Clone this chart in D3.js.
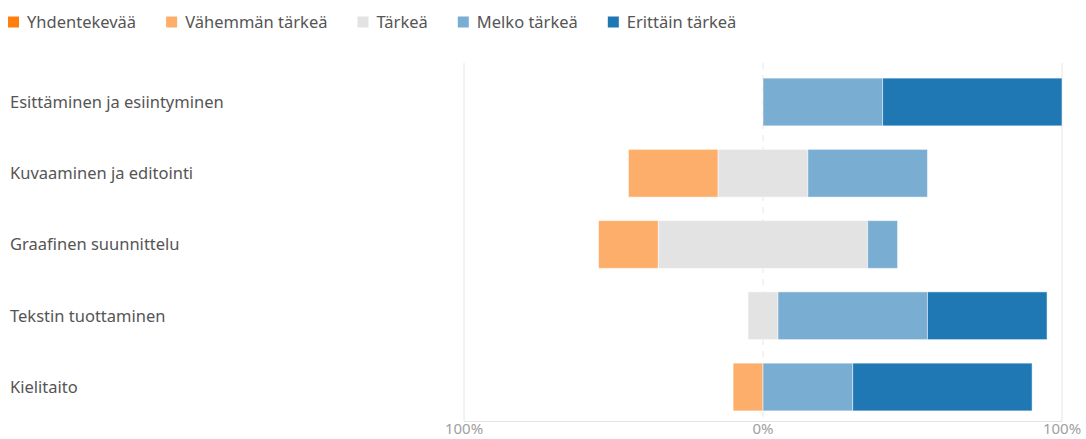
<!DOCTYPE html>
<html>
<head>
<meta charset="utf-8">
<script src="https://cdn.jsdelivr.net/npm/d3@7"></script>
<style>
  body { margin: 0; background: #fff; }
  svg { display: block; font-family: "Noto Sans", "Open Sans", sans-serif; }
</style>
</head>
<body>
<svg id="chart" width="1086" height="439"></svg>
<script>
// Survey topics and response levels (share of answers, %)
const categories = [
  "Esittäminen ja esiintyminen",
  "Kuvaaminen ja editointi",
  "Graafinen suunnittelu",
  "Tekstin tuottaminen",
  "Kielitaito"
];
const levels = ["Yhdentekevää", "Vähemmän tärkeä", "Tärkeä", "Melko tärkeä", "Erittäin tärkeä"];
const levelColors = ["#ff7f0e", "#fdae6b", "#e3e3e3", "#7aadd2", "#1f77b4"];

const yhdentekevaa   = [0, 0, 0, 0, 0];
const vahemmanTarkea = [0, 30, 20, 0, 10];
const tarkea         = [0, 30, 70, 10, 0];
const melkoTarkea    = [40, 40, 10, 50, 30];
const erittainTarkea = [60, 0, 0, 40, 60];

const tickValues = [-100, 0, 100];
const tickLabels = ["100%", "0%", "100%"];

const series = [yhdentekevaa, vahemmanTarkea, tarkea, melkoTarkea, erittainTarkea];

const svg = d3.select("#chart");
const margin = { top: 66, right: 24, bottom: 16, left: 464 };
const width = 1086, height = 439;

const x = d3.scaleLinear().domain([-100, 100]).range([margin.left, width - margin.right]);
const y = d3.scaleBand().domain(categories).range([margin.top, height - margin.bottom]).paddingInner(0.33).paddingOuter(0.17);

// Diverging layout: neutral level centred on zero, lower levels to the left
const segments = [];
categories.forEach((cat, i) => {
  const neutral = series[2][i];
  let left = -neutral / 2;
  [1, 0].forEach(k => {
    const v = series[k][i];
    segments.push({ cat, level: k, x0: left - v, x1: left, v });
    left -= v;
  });
  segments.push({ cat, level: 2, x0: -neutral / 2, x1: neutral / 2, v: neutral });
  let right = neutral / 2;
  [3, 4].forEach(k => {
    const v = series[k][i];
    segments.push({ cat, level: k, x0: right, x1: right + v, v });
    right += v;
  });
});

// Gridlines
const gridTop = 63, gridBottom = 421;
svg.append("g").selectAll("line").data(tickValues).join("line")
  .attr("x1", d => x(d)).attr("x2", d => x(d))
  .attr("y1", gridTop).attr("y2", gridBottom)
  .attr("stroke", "#e6e6e6").attr("stroke-width", 1)
  .attr("stroke-dasharray", d => d === 0 ? "6,6" : null);

// Baseline
svg.append("line")
  .attr("x1", x(-100)).attr("x2", x(100))
  .attr("y1", gridBottom + 0.5).attr("y2", gridBottom + 0.5)
  .attr("stroke", "#e3e3e3");

// Bars
svg.append("g").selectAll("rect").data(segments.filter(d => d.v > 0)).join("rect")
  .attr("x", d => x(d.x0))
  .attr("width", d => x(d.x1) - x(d.x0))
  .attr("y", d => y(d.cat))
  .attr("height", y.bandwidth())
  .attr("fill", d => levelColors[d.level])
  .attr("stroke", "rgba(255,255,255,0.5)")
  .attr("stroke-width", 1);

// Category labels
svg.append("g").selectAll("text").data(categories).join("text")
  .attr("x", 10)
  .attr("y", d => y(d) + y.bandwidth() / 2)
  .attr("dy", "0.35em")
  .attr("fill", "#555")
  .attr("font-size", 16.5)
  .text(d => d);

// Tick labels
svg.append("g").selectAll("text").data(tickValues).join("text")
  .attr("x", d => x(d))
  .attr("y", 434)
  .attr("text-anchor", "middle")
  .attr("fill", "#a0a0a0")
  .attr("font-size", 15)
  .text((d, i) => tickLabels[i]);

// Legend
const legend = svg.append("g").attr("transform", "translate(8,22)");
let lx = 0;
levels.forEach((name, i) => {
  const g = legend.append("g").attr("transform", `translate(${lx},0)`);
  g.append("rect").attr("x", 0).attr("y", -5.5).attr("width", 11).attr("height", 11).attr("fill", levelColors[i]);
  const t = g.append("text").attr("x", 19).attr("dy", "0.35em")
    .attr("fill", "#555").attr("font-size", 16.5).text(name);
  lx += 19 + t.node().getComputedTextLength() + 30;
});
</script>
</body>
</html>
